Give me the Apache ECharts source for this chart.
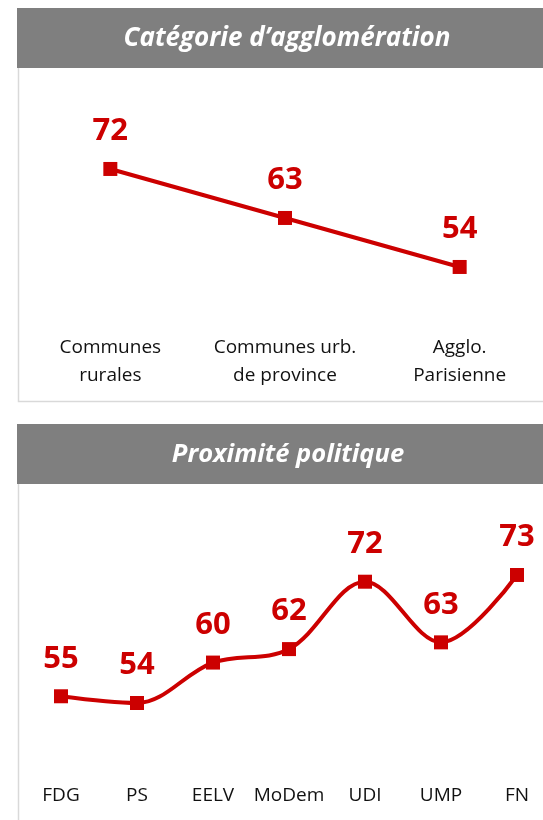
<!DOCTYPE html>
<html>
<head>
<meta charset="utf-8">
<script src="https://cdn.jsdelivr.net/npm/echarts@6/dist/echarts.min.js"></script>
<style>
html, body { margin: 0; padding: 0; background: #ffffff; overflow: hidden; }
#chart { width: 600px; height: 820px; }
</style>
</head>
<body>
<div id="chart"></div>
<script>
const title1 = 'Catégorie d’agglomération';
const categories1 = ['Communes\nrurales', 'Communes urb.\nde province', 'Agglo.\nParisienne'];
const values1 = [72, 63, 54];

const title2 = 'Proximité politique';
const categories2 = ['FDG', 'PS', 'EELV', 'MoDem', 'UDI', 'UMP', 'FN'];
const values2 = [55, 54, 60, 62, 72, 63, 73];

const RED = '#CC0000';
const FONT = '"Open Sans", "Liberation Sans", sans-serif';

const chart = echarts.init(document.getElementById('chart'), null, { renderer: 'canvas' });

const labelStyle = {
  show: true,
  position: 'top',
  distance: 15,
  color: RED,
  fontFamily: FONT,
  fontWeight: 'bold',
  fontSize: 31
};

const option = {
  backgroundColor: '#ffffff',
  animation: false,
  graphic: [
    { type: 'rect', shape: { x: 17, y: 8, width: 583, height: 60 }, style: { fill: '#7f7f7f' }, z: 0 },
    { type: 'rect', shape: { x: 17, y: 424, width: 583, height: 60 }, style: { fill: '#7f7f7f' }, z: 0 },
    { type: 'polyline', shape: { points: [[18.5, 68], [18.5, 401.5], [600, 401.5]] }, style: { stroke: '#d9d9d9', lineWidth: 1.5, fill: null }, z: 0 },
    { type: 'line', shape: { x1: 18.5, y1: 484, x2: 18.5, y2: 820 }, style: { stroke: '#d9d9d9', lineWidth: 1.5 }, z: 0 },
    { type: 'text', x: 287, y: 39, style: { text: title1, fill: '#ffffff', font: 'italic bold 26px ' + FONT, textAlign: 'center', textVerticalAlign: 'middle' }, z: 5 },
    { type: 'text', x: 288, y: 455, style: { text: title2, fill: '#ffffff', font: 'italic bold 25.5px ' + FONT, textAlign: 'center', textVerticalAlign: 'middle' }, z: 5 }
  ],
  grid: [
    { left: 23, width: 524, top: 136.3, height: 196 },
    { left: 23, width: 532, top: 527.8, height: 208.9 }
  ],
  xAxis: [
    {
      type: 'category', gridIndex: 0, data: categories1, boundaryGap: true,
      axisLine: { show: false }, axisTick: { show: false }, splitLine: { show: false },
      axisLabel: { color: '#111111', fontFamily: FONT, fontSize: 19, lineHeight: 28, margin: 1, interval: 0 }
    },
    {
      type: 'category', gridIndex: 1, data: categories2, boundaryGap: true,
      axisLine: { show: false }, axisTick: { show: false }, splitLine: { show: false },
      axisLabel: { color: '#111111', fontFamily: FONT, fontSize: 19, lineHeight: 28, margin: 45, interval: 0 }
    }
  ],
  yAxis: [
    { type: 'value', gridIndex: 0, min: 42, max: 78, show: false, splitLine: { show: false } },
    { type: 'value', gridIndex: 1, min: 49, max: 80, show: false, splitLine: { show: false } }
  ],
  series: [
    {
      type: 'line', xAxisIndex: 0, yAxisIndex: 0, data: values1,
      symbol: 'rect', symbolSize: 14,
      lineStyle: { color: RED, width: 4 },
      itemStyle: { color: RED },
      label: labelStyle
    },
    {
      type: 'line', xAxisIndex: 1, yAxisIndex: 1, data: values2, smooth: 0.35,
      symbol: 'rect', symbolSize: 14,
      lineStyle: { color: RED, width: 4 },
      itemStyle: { color: RED },
      label: labelStyle
    }
  ]
};

chart.setOption(option);
</script>
</body>
</html>
